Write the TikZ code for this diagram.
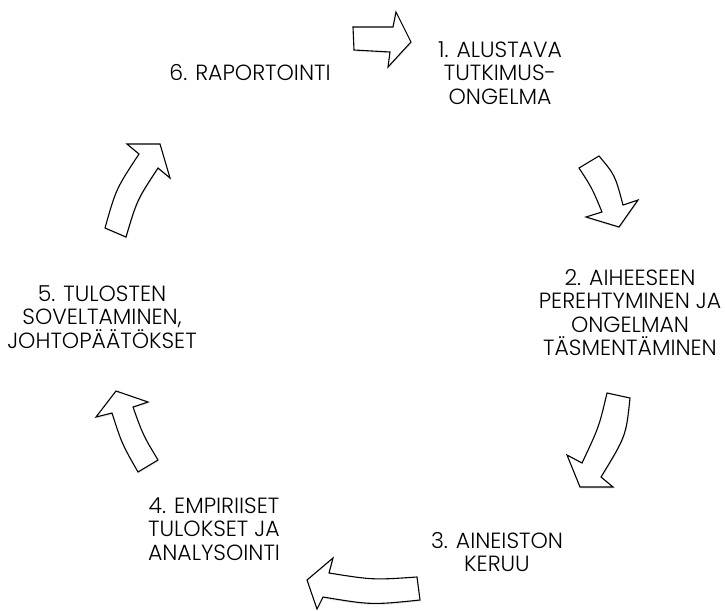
\documentclass[tikz,border=0pt]{standalone}
\usepackage{fontspec}
\setmainfont{Poppins}[UprightFont=* Light]
\usetikzlibrary{shadows}
\begin{document}
\begin{tikzpicture}[x=1pt,y=-1pt,
  blockarrow/.style={draw=black, line width=1.1pt, line join=miter, fill=white,
    drop shadow={opacity=0.18, shadow xshift=0.6pt, shadow yshift=-1.6pt}},
  label/.style={align=center, font=\fontsize{22}{23.5}\selectfont, inner sep=0pt, text=black}]
\useasboundingbox (0,0) rectangle (725,610);
% arrows
\draw[blockarrow] (353,27) -- (393,27) -- (396,12) -- (411,42) -- (388,67) -- (390,52) -- (354,50) -- cycle;
\draw[blockarrow] (579,168) -- (599,156) .. controls (615,175) .. (623,205) -- (638,200) -- (619,227) -- (586,217) -- (602,212) .. controls (592,188) .. cycle;
\draw[blockarrow] (607,393) -- (630,398) .. controls (626,436) .. (601,477) -- (613,487) -- (580,487) -- (567,455) -- (582,463) .. controls (599,427) .. cycle;
\draw[blockarrow] (417,577) -- (420,600) .. controls (371.5,605) .. (323,597) -- (317,609) -- (307,580) -- (333,558) -- (329,573) .. controls (373,580) .. cycle;
\draw[blockarrow] (138,472) .. controls (122,444) .. (112,413) -- (96,417) -- (116,391) -- (148,402) -- (133,407) .. controls (143,435) .. (158,460) -- cycle;
\draw[blockarrow] (105,228) .. controls (116,189) .. (139,154) -- (127,144) -- (160,144) -- (170,178) -- (158,168) .. controls (137,200) .. (126,237) -- cycle;
% labels
\node[label] (t1) at (500,73) {1. ALUSTAVA\\TUTKIMUS-\\ONGELMA};
\node[label] (t2) at (630,312.5) {2. AIHEESEEN\\PEREHTYMINEN JA\\ONGELMAN\\TÄSMENTÄMINEN};
\node[label] (t3) at (497,552) {3. AINEISTON\\KERUU};
\node[label] (t4) at (214,529) {4. EMPIRIISET\\TULOKSET JA\\ANALYSOINTI};
\node[label] (t5) at (102,317) {5. TULOSTEN\\SOVELTAMINEN,\\JOHTOPÄÄTÖKSET};
\node[label] (t6) at (250,73) {6. RAPORTOINTI};
\end{tikzpicture}
\end{document}
